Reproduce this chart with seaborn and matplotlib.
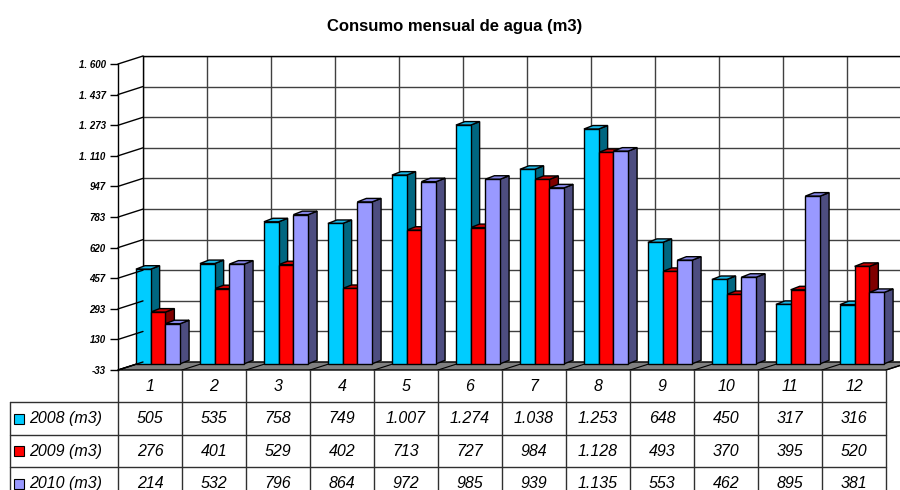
import numpy as np
import pandas as pd
import matplotlib
matplotlib.use("Agg")
import matplotlib.pyplot as plt
import seaborn as sns
from matplotlib.patches import Polygon, Rectangle
from matplotlib.lines import Line2D
from matplotlib.transforms import IdentityTransform

# data
meses = [str(m) for m in range(1, 13)]
series = ["2008 (m3)", "2009 (m3)", "2010 (m3)"]
c2008 = [505, 535, 758, 749, 1007, 1274, 1038, 1253, 648, 450, 317, 316]
c2009 = [276, 401, 529, 402, 713, 727, 984, 1128, 493, 370, 395, 520]
c2010 = [214, 532, 796, 864, 972, 985, 939, 1135, 553, 462, 895, 381]
yticks = [-33, 130, 293, 457, 620, 783, 947, 1110, 1273, 1437, 1600]

front_cols = ["#00CCFF", "#FF0000", "#9999FF"]
side_cols = ["#006680", "#800000", "#4D4D80"]
top_cols = ["#1AB8E8", "#D00000", "#8585E6"]

df = pd.DataFrame({"mes": meses * 3,
                   "serie": np.repeat(series, 12),
                   "consumo": c2008 + c2009 + c2010})


def miles(v, sep="."):
    return f"{v:,}".replace(",", sep)


sns.set_theme(style="white")
plt.rcParams["font.family"] = ["Liberation Sans", "DejaVu Sans"]
plt.rcParams["text.color"] = "black"
plt.rcParams["ytick.color"] = "black"
plt.rcParams["ytick.labelcolor"] = "black"

W, H = 900, 490
fig = plt.figure(figsize=(9, 4.9), dpi=100)


def box(x, y_top, w, h):  # pixel box (from top-left) -> figure fraction
    return [x / W, (H - y_top - h) / H, w / W, h / H]


DX, DY = 25, 8          # depth of the fake 3d wall
X0, YT, PW, PH = 118, 64, 768, 306
BDX, BDY = 9, 3.5       # depth of each bar

ax_back = fig.add_axes(box(X0 + DX, YT - DY, PW, PH), zorder=0)
ax_tab = fig.add_axes(box(0, 370, W, 120), zorder=1)
ax_bar = fig.add_axes(box(X0 + 8, YT, PW, PH), zorder=2)
ax_front = fig.add_axes(box(X0, YT, PW, PH), zorder=3)

for a in (ax_back, ax_bar, ax_front):
    a.set_xlim(-0.5, 11.5)
    a.set_ylim(-33, 1600)

# --- back wall with grid ---
ax_back.set_facecolor("white")
ax_back.set_xticks(np.arange(-0.5, 12, 1))
ax_back.set_yticks(yticks)
ax_back.grid(True, color="#404040", lw=1)
ax_back.tick_params(length=0, labelbottom=False, labelleft=False)
for s in ["right", "bottom"]:
    ax_back.spines[s].set_visible(False)
for s in ["left", "top"]:
    ax_back.spines[s].set_color("black")
    ax_back.spines[s].set_linewidth(1)

# floor
tf = ax_front.transData
fl = tf.transform((-0.5, -33))
fr = tf.transform((11.5, -33))
floor = Polygon([fl, fr, fr + (DX, DY), fl + (DX, DY)], closed=True,
                transform=IdentityTransform(), fc="#808080", ec="black",
                lw=1, clip_on=False)
ax_back.add_artist(floor)
for k in range(13):
    p = tf.transform((k - 0.5, -33))
    ax_back.add_artist(Line2D([p[0], p[0] + DX], [p[1], p[1] + DY],
                              transform=IdentityTransform(), color="black",
                              lw=0.8, clip_on=False))

# --- bars ---
sns.barplot(data=df, x="mes", y="consumo", hue="serie", order=meses,
            hue_order=series, palette=front_cols, saturation=1, width=0.69,
            edgecolor="black", linewidth=1, legend=False, ax=ax_bar)
ax_bar.set_xlim(-0.5, 11.5)
ax_bar.set_ylim(-33, 1600)
ax_bar.set_axis_off()
ax_bar.patch.set_alpha(0)

tb = ax_bar.transData
for i, cont in enumerate(ax_bar.containers):
    for bar in cont:
        x0, x1 = bar.get_x(), bar.get_x() + bar.get_width()
        (px0, py0) = tb.transform((x0, 0))
        (px1, py1) = tb.transform((x1, bar.get_height()))
        side = Polygon([(px1, py0), (px1 + BDX, py0 + BDY),
                        (px1 + BDX, py1 + BDY), (px1, py1)],
                       transform=IdentityTransform(), fc=side_cols[i],
                       ec="black", lw=1, zorder=0.5, clip_on=False)
        topf = Polygon([(px0, py1), (px1, py1), (px1 + BDX, py1 + BDY),
                        (px0 + BDX, py1 + BDY)],
                       transform=IdentityTransform(), fc=top_cols[i],
                       ec="black", lw=1, zorder=0.5, clip_on=False)
        ax_bar.add_artist(side)
        ax_bar.add_artist(topf)

# --- front y axis ---
ax_front.patch.set_alpha(0)
for s in ["right", "top", "bottom"]:
    ax_front.spines[s].set_visible(False)
ax_front.spines["left"].set_color("black")
ax_front.spines["left"].set_linewidth(1)
ax_front.set_xticks([])
ax_front.set_yticks(yticks)
ax_front.set_yticklabels([miles(v, ". ") for v in yticks],
                         fontsize=7, fontweight="bold", fontstyle="italic",
                         color="black")
ax_front.tick_params(axis="y", direction="out", length=6, width=1,
                     color="black", pad=3, left=True)
for t in yticks:
    p = tf.transform((-0.5, t))
    ax_front.add_artist(Line2D([p[0], p[0] + DX], [p[1], p[1] + DY],
                               transform=IdentityTransform(), color="black",
                               lw=1, clip_on=False))

# --- data table ---
ax_tab.set_xlim(0, W)
ax_tab.set_ylim(H, 370)
ax_tab.set_axis_off()
cols_x = [X0 + PW / 12 * k for k in range(13)]
rows_y = [370, 402, 435, 467, 500]
lc = "#303030"
for x in cols_x:
    ax_tab.plot([x, x], [370, 500], color=lc, lw=1, clip_on=True)
for y in rows_y[1:4]:
    ax_tab.plot([10, cols_x[-1]], [y, y], color=lc, lw=1)
ax_tab.plot([10, 10], [402, 500], color=lc, lw=1)

txt = dict(fontsize=11.5, fontstyle="italic", va="center", color="black")
for k, m in enumerate(meses):
    xc = (cols_x[k] + cols_x[k + 1]) / 2
    ax_tab.text(xc, (rows_y[0] + rows_y[1]) / 2, m, ha="center", **txt)
for r, (name, vals) in enumerate(zip(series, [c2008, c2009, c2010])):
    yc = (rows_y[r + 1] + rows_y[r + 2]) / 2
    ax_tab.add_patch(Rectangle((14, yc - 5), 10, 10, fc=front_cols[r],
                               ec="black", lw=0.8))
    ax_tab.text(29, yc, name, ha="left", **txt)
    for k, v in enumerate(vals):
        xc = (cols_x[k] + cols_x[k + 1]) / 2
        ax_tab.text(xc, yc, miles(v), ha="center", **txt)

fig.text(455 / W, 1 - 26 / H, "Consumo mensual de agua (m3)",
         ha="center", va="center", fontsize=12, fontweight="bold",
         color="black")

fig.savefig("out.png", dpi=100)
